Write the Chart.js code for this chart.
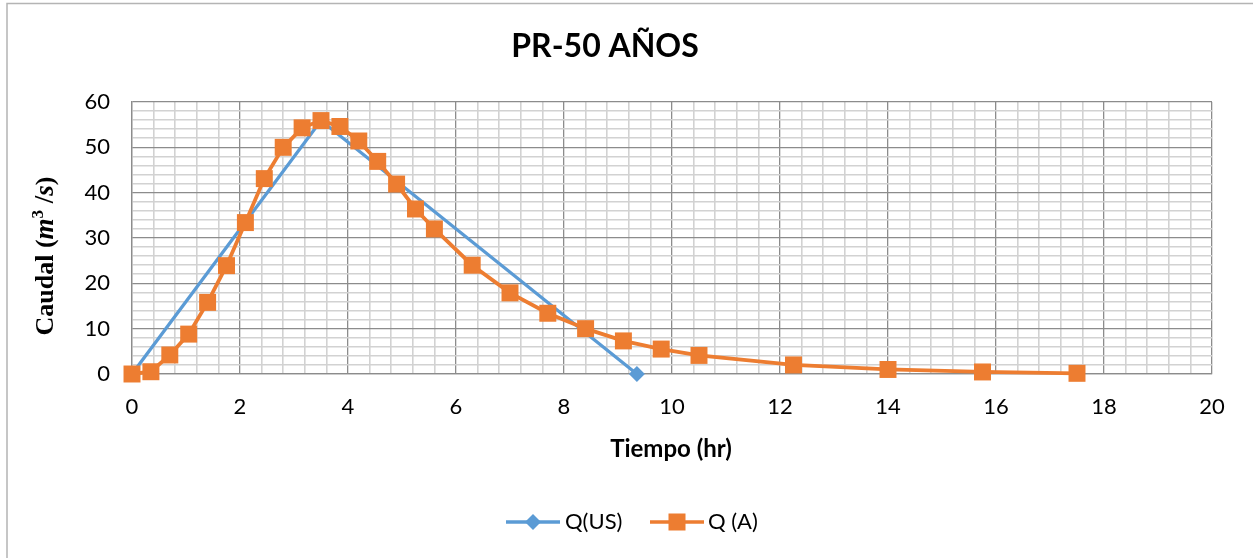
<!DOCTYPE html>
<html>
<head>
<meta charset="utf-8">
<script src="https://cdn.jsdelivr.net/npm/chart.js@4"></script>
<style>
  html, body { margin: 0; padding: 0; background: #fff; }
  #wrap { width: 1253px; height: 558px; }
</style>
</head>
<body>
<div id="wrap"><canvas id="chart" width="1253" height="558"></canvas></div>
<script>
// Q(US): triangular hydrograph
const usTime = [0, 3.5, 9.35];
const usFlow = [0, 55.9, 0];

// Q (A): dimensionless hydrograph points
const aTime = [0, 0.35, 0.7, 1.05, 1.4, 1.75, 2.1, 2.45, 2.8, 3.15, 3.5, 3.85, 4.2, 4.55, 4.9, 5.25, 5.6,
  6.3, 7.0, 7.7, 8.4, 9.1, 9.8, 10.5, 12.25, 14.0, 15.75, 17.5];
const aFlow = [0, 0.5, 4.2, 8.8, 15.8, 23.9, 33.4, 43.1, 50.0, 54.3, 55.9, 54.6, 51.4, 46.9, 41.9, 36.4, 32.0,
  24.0, 17.9, 13.4, 10.0, 7.3, 5.5, 4.1, 2.0, 1.0, 0.45, 0.15];

const xMajorTicks = [0, 2, 4, 6, 8, 10, 12, 14, 16, 18, 20];
const yMajorTicks = [0, 10, 20, 30, 40, 50, 60];

const BLUE = "#5B9BD5";
const ORANGE = "#ED7D31";
const MAJOR = "#8c8c8c";
const MINOR = "#d2d2d2";
const SANS = "Lato, 'Open Sans', sans-serif";
const SERIF = "'Liberation Serif', 'DejaVu Serif', serif";

// 5 minor divisions between major ticks
function withMinor(majors) {
  const out = [];
  for (let i = 0; i < majors.length - 1; i++) {
    const step = (majors[i + 1] - majors[i]) / 5;
    for (let k = 0; k < 5; k++) out.push({ value: +(majors[i] + k * step).toFixed(4), major: k === 0 });
  }
  out.push({ value: majors[majors.length - 1], major: true });
  return out;
}

const toPoints = (xs, ys) => xs.map((x, i) => ({ x, y: ys[i] }));

const decor = {
  id: "decor",
  beforeDraw(chart) {
    const ctx = chart.ctx;
    ctx.save();
    ctx.fillStyle = "#fff";
    ctx.fillRect(0, 0, chart.width, chart.height);
    ctx.strokeStyle = "#b4b4b4";
    ctx.lineWidth = 1.5;
    ctx.strokeRect(7, 3.5, chart.width + 20, chart.height + 20);
    ctx.restore();
  },
  afterDraw(chart) {
    const ctx = chart.ctx;
    ctx.save();
    ctx.fillStyle = "#000";
    ctx.textBaseline = "middle";
    ctx.textAlign = "center";

    ctx.font = "bold 32px " + SANS;
    ctx.fillText("PR-50 AÑOS", 605, 47);

    ctx.font = "bold 24px " + SANS;
    ctx.fillText("Tiempo (hr)", 671, 449);

    // y axis title with math part
    const parts = [
      { t: "Caudal (", f: "bold 26px " + SERIF, dy: 0 },
      { t: "m", f: "italic bold 27px " + SERIF, dy: 0 },
      { t: "3", f: "bold 17px " + SERIF, dy: -10 },
      { t: " /", f: "bold 27px " + SERIF, dy: 0 },
      { t: "s", f: "italic bold 27px " + SERIF, dy: 0 },
      { t: ")", f: "bold 26px " + SERIF, dy: 0 }
    ];
    let total = 0;
    parts.forEach((p) => { ctx.font = p.f; p.w = ctx.measureText(p.t).width; total += p.w; });
    ctx.translate(44, 256);
    ctx.rotate(-Math.PI / 2);
    ctx.textAlign = "left";
    ctx.textBaseline = "alphabetic";
    let x = -total / 2;
    parts.forEach((p) => { ctx.font = p.f; ctx.fillText(p.t, x, 9 + p.dy); x += p.w; });
    ctx.setTransform(1, 0, 0, 1, 0, 0);

    // legend
    const ly = 522;
    ctx.lineWidth = 3.5;
    ctx.strokeStyle = BLUE;
    ctx.beginPath(); ctx.moveTo(506, ly); ctx.lineTo(560, ly); ctx.stroke();
    ctx.fillStyle = BLUE;
    ctx.beginPath();
    ctx.moveTo(533 - 8, ly); ctx.lineTo(533, ly - 8); ctx.lineTo(533 + 8, ly); ctx.lineTo(533, ly + 8);
    ctx.closePath(); ctx.fill();

    ctx.strokeStyle = ORANGE;
    ctx.beginPath(); ctx.moveTo(650, ly); ctx.lineTo(704, ly); ctx.stroke();
    ctx.fillStyle = ORANGE;
    ctx.fillRect(677 - 8.5, ly - 8.5, 17, 17);

    ctx.fillStyle = "#000";
    ctx.font = "22px " + SANS;
    ctx.textBaseline = "middle";
    ctx.fillText("Q(US)", 565, ly);
    ctx.fillText("Q (A)", 708, ly);
    ctx.restore();
  }
};

const xTicks = withMinor(xMajorTicks);
const yTicks = withMinor(yMajorTicks);
const gridColor = (list) => (c) => (list[c.index] && list[c.index].major ? MAJOR : MINOR);
const gridWidth = (list) => (c) => (list[c.index] && list[c.index].major ? 1.3 : 1.6);

new Chart(document.getElementById("chart"), {
  type: "line",
  data: {
    datasets: [
      {
        label: "Q(US)",
        data: toPoints(usTime, usFlow),
        borderColor: BLUE,
        backgroundColor: BLUE,
        borderWidth: 3.3,
        pointStyle: "rectRot",
        pointRadius: 8,
        pointBorderWidth: 0,
        tension: 0,
        clip: false,
        order: 1
      },
      {
        label: "Q (A)",
        data: toPoints(aTime, aFlow),
        borderColor: ORANGE,
        backgroundColor: ORANGE,
        borderWidth: 3.8,
        pointStyle: "rect",
        pointRadius: 12,
        pointBorderWidth: 0,
        tension: 0,
        clip: false,
        order: 0
      }
    ]
  },
  options: {
    responsive: false,
    animation: false,
    layout: { padding: { top: 102, right: 41, bottom: 0, left: 0 } },
    plugins: { legend: { display: false }, title: { display: false }, tooltip: { enabled: false } },
    scales: {
      x: {
        type: "linear",
        min: 0,
        max: 20,
        afterBuildTicks: (s) => { s.ticks = xTicks.map((t) => ({ value: t.value })); },
        afterFit: (s) => { s.height = 558 - 374; },
        ticks: {
          autoSkip: false,
          maxRotation: 0,
          padding: 20,
          color: "#000",
          font: { family: SANS, size: 22 },
          callback: (v, i) => (xTicks[i] && xTicks[i].major ? String(v) : "")
        },
        grid: { color: gridColor(xTicks), lineWidth: gridWidth(xTicks), drawTicks: false },
        border: { color: MAJOR, width: 1.3 }
      },
      y: {
        min: 0,
        max: 60,
        afterBuildTicks: (s) => { s.ticks = yTicks.map((t) => ({ value: t.value })); },
        afterFit: (s) => { s.width = 132; },
        ticks: {
          autoSkip: false,
          padding: 22,
          color: "#000",
          font: { family: SANS, size: 22 },
          callback: (v, i) => (yTicks[i] && yTicks[i].major ? String(v) : "")
        },
        grid: { color: gridColor(yTicks), lineWidth: gridWidth(yTicks), drawTicks: false },
        border: { color: MAJOR, width: 1.3 }
      }
    }
  },
  plugins: [decor]
});
</script>
</body>
</html>
